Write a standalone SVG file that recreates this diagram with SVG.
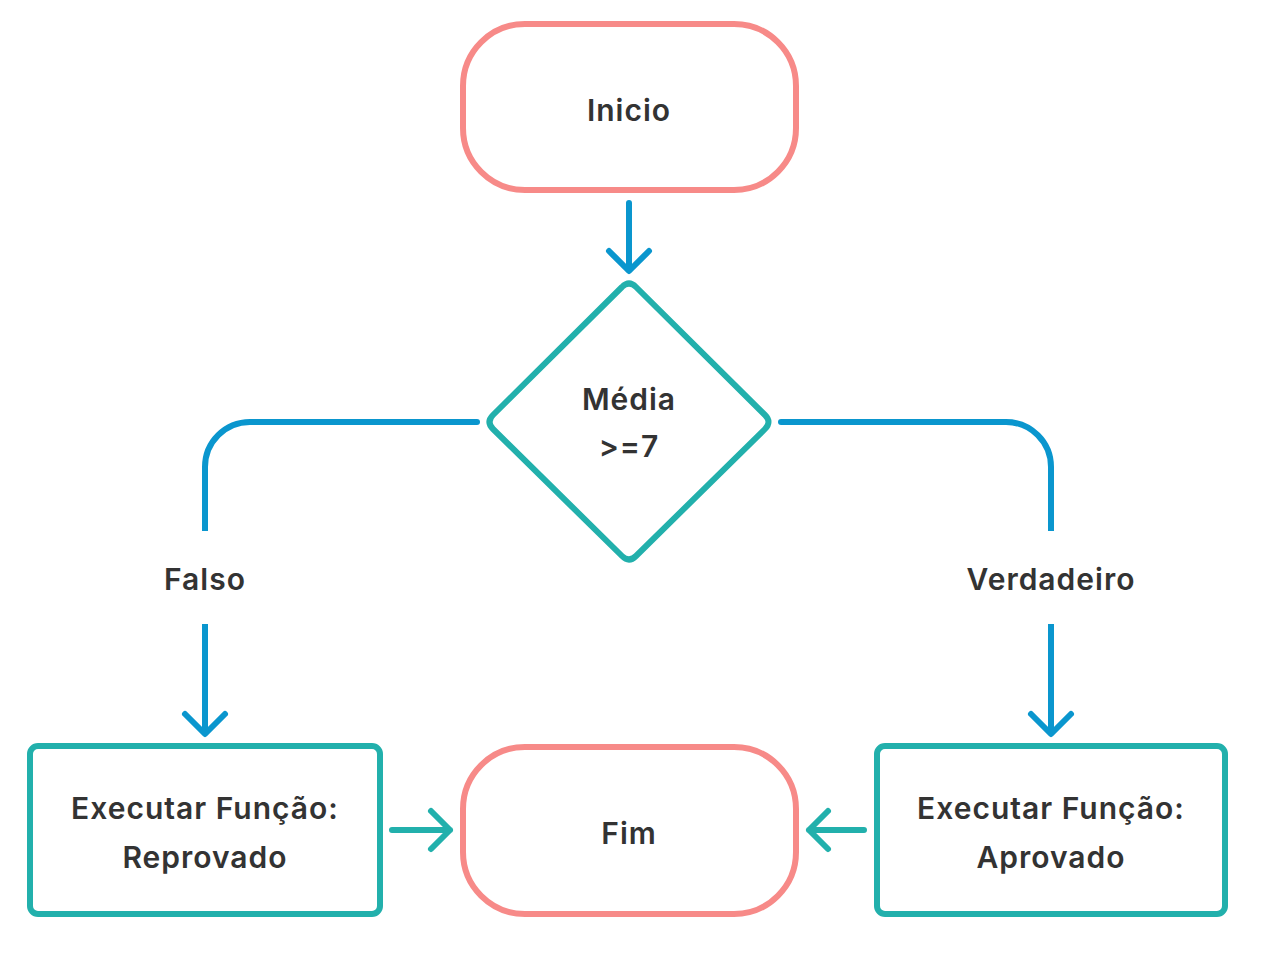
<svg xmlns="http://www.w3.org/2000/svg" width="1280" height="968" viewBox="0 0 1280 968">
<style>
.term{fill:#fff;stroke:#F78A88;stroke-width:6}
.proc{fill:#fff;stroke:#22B0AC;stroke-width:6}
.t{font-family:Inter,"Liberation Sans",sans-serif;font-weight:600;font-size:30px;letter-spacing:1px;fill:#333;text-anchor:middle;dominant-baseline:central}
.cb{fill:none;stroke:#0A96CE;stroke-width:6;stroke-linecap:round;stroke-linejoin:round}
.ct{fill:none;stroke:#22B0AC;stroke-width:6;stroke-linecap:round;stroke-linejoin:round}
</style>
<rect width="1280" height="968" fill="#fff"/>
<g id="connectors">
<path class="cb" d="M629 203V268M609 251L629 271L649 251"/>
<path class="cb" d="M477 422H250A45 45 0 0 0 205 467V531" style="stroke-linecap:butt"/>
<circle cx="477" cy="422" r="3" fill="#0A96CE"/>
<path class="cb" d="M781 422H1006A45 45 0 0 1 1051 467V531" style="stroke-linecap:butt"/>
<circle cx="781" cy="422" r="3" fill="#0A96CE"/>
<path class="cb" d="M205 624V731" style="stroke-linecap:butt"/>
<path class="cb" d="M185 714L205 734L225 714"/>
<path class="cb" d="M1051 624V731" style="stroke-linecap:butt"/>
<path class="cb" d="M1031 714L1051 734L1071 714"/>
<path class="ct" d="M392 830H450M431 811L450 830L431 849"/>
<path class="ct" d="M864 830H809M828 811L809 830L828 849"/>
</g>
<g id="inicio">
<rect class="term" x="463" y="24" width="333" height="166" rx="62"/>
<text class="t" x="629" y="110">Inicio</text>
</g>
<g id="decisao">
<path class="proc" d="M622 287Q629 280 636 287L765 415Q772 422 765 429L636 556Q629 563 622 556L493 429Q486 422 493 415Z"/>
<text class="t" x="629" y="399">Média</text>
<text class="t" x="629" y="446">&gt;=7</text>
</g>
<g id="falso"><text class="t" x="205" y="579">Falso</text></g>
<g id="verdadeiro"><text class="t" x="1051" y="579">Verdadeiro</text></g>
<g id="reprovado">
<rect class="proc" x="30" y="746" width="350" height="168" rx="8"/>
<text class="t" x="205" y="808">Executar Função:</text>
<text class="t" x="205" y="857">Reprovado</text>
</g>
<g id="aprovado">
<rect class="proc" x="877" y="746" width="348" height="168" rx="8"/>
<text class="t" x="1051" y="808">Executar Função:</text>
<text class="t" x="1051" y="857">Aprovado</text>
</g>
<g id="fim">
<rect class="term" x="463" y="747" width="333" height="167" rx="62"/>
<text class="t" x="629" y="833">Fim</text>
</g>
</svg>
